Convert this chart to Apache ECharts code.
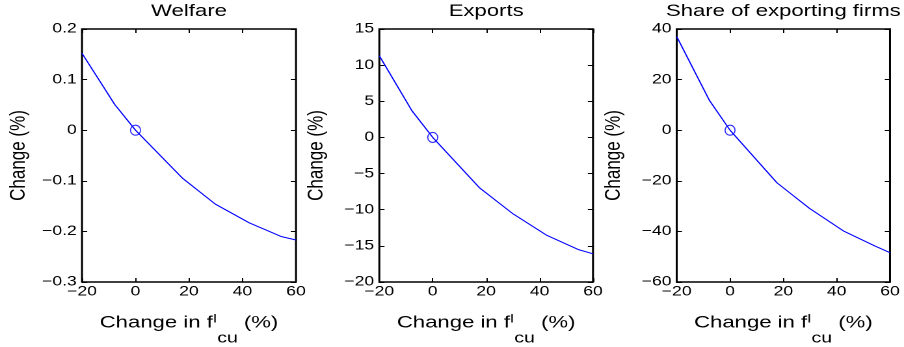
<!DOCTYPE html>
<html>
<head>
<meta charset="utf-8">
<script src="https://cdn.jsdelivr.net/npm/echarts@6/dist/echarts.min.js"></script>
<style>
  html, body { margin: 0; padding: 0; background: #fff; overflow: hidden; width: 904px; height: 347px; }
  /* the figure is laid out narrow and widened horizontally, like the wide-set lettering of the original plot */
  #chart { width: 695px; height: 347px; transform: scaleX(1.300719); transform-origin: 0 0; }
</style>
</head>
<body>
<div id="chart"></div>
<script>
// Change in the fixed cost f^I_cu (%) at which the model was solved
const xChange = [-20, -7.8, 0, 17.6, 29.8, 42.5, 54.4, 60];
// Responses (%) of each outcome
const welfare = [0.152, 0.051, 0, -0.095, -0.146, -0.183, -0.210, -0.217];
const exportsChg = [11.3, 3.7, 0, -7.0, -10.5, -13.5, -15.5, -16.1];
const shareExporting = [37.0, 11.9, 0, -20.8, -30.9, -39.8, -45.8, -48.4];
// Baseline calibration point
const baseline = [0, 0];

const panelTitles = ['Welfare', 'Exports', 'Share of exporting firms'];
const xRange = { min: -20, max: 60, interval: 20 };
const yRanges = [
  { min: -0.3, max: 0.2, interval: 0.1 },
  { min: -20, max: 15, interval: 5 },
  { min: -60, max: 40, interval: 20 }
];
const panelSeries = [welfare, exportsChg, shareExporting];

const S = 904 / 695;               // horizontal widening applied by CSS
const FONT = "'Liberation Sans', Arial, Helvetica, sans-serif";
// panel frames (screen px): left edge and width
const frames = [[82, 214], [379.3, 213.7], [676.7, 213.3]];
const TOP = 29, HEIGHT = 253;

const fmt = v => {
  const r = Math.round(v * 1000) / 1000;
  return String(r).replace('-', '\u2212');
};

const hiddenLine = { show: false, onZero: false };
const tickStyle = { inside: true, length: 4, lineStyle: { color: '#000', width: 1 } };
const labelStyle = (margin) => ({ color: '#000', fontFamily: FONT, fontSize: 13.5, margin, formatter: fmt });

const xName = '{a|Change in f}{sup|I}{sub|cu}{a| (%)}';
const xNameRich = {
  a: { fontFamily: FONT, fontSize: 17, color: '#000', lineHeight: 20 },
  sup: { fontFamily: FONT, fontSize: 12, color: '#000', lineHeight: 12, padding: [0, 0, 8, 0] },
  sub: { fontFamily: FONT, fontSize: 15, color: '#000', lineHeight: 15, padding: [31, 0, 0, 0] }
};

const grid = [], xAxis = [], yAxis = [], series = [], title = [];

frames.forEach(([l, w], i) => {
  const left = l / S, width = w / S;
  grid.push({ left, top: TOP, width, height: HEIGHT, show: true, outerBoundsMode: 'none',
    containLabel: false,
    borderColor: '#000', borderWidth: 1.5, backgroundColor: 'transparent' });

  title.push({ text: panelTitles[i], left: left + width / 2, top: 3, padding: 0,
    textAlign: 'center',
    textStyle: { fontFamily: FONT, fontSize: 17, fontWeight: 'normal', color: '#000' } });

  // bottom axis with labels and name, top axis with ticks only
  xAxis.push({ gridIndex: i, type: 'value', position: 'bottom', ...xRange,
    axisLine: hiddenLine, axisTick: tickStyle, splitLine: { show: false },
    axisLabel: labelStyle(3),
    name: xName, nameLocation: 'middle', nameGap: 31, nameMoveOverlap: false,
    nameTextStyle: { rich: xNameRich } });
  xAxis.push({ gridIndex: i, type: 'value', position: 'top', ...xRange,
    axisLine: hiddenLine, axisTick: tickStyle, splitLine: { show: false },
    axisLabel: { show: false } });

  yAxis.push({ gridIndex: i, type: 'value', position: 'left', ...yRanges[i],
    axisLine: hiddenLine, axisTick: tickStyle, splitLine: { show: false },
    axisLabel: labelStyle(4),
    name: 'Change (%)', nameLocation: 'middle', nameGap: 40, nameMoveOverlap: false,
    nameTextStyle: { fontFamily: FONT, fontSize: 17, color: '#000' } });
  yAxis.push({ gridIndex: i, type: 'value', position: 'right', ...yRanges[i],
    axisLine: hiddenLine, axisTick: tickStyle, splitLine: { show: false },
    axisLabel: { show: false } });

  series.push({ type: 'line', xAxisIndex: 2 * i, yAxisIndex: 2 * i,
    data: xChange.map((x, k) => [x, panelSeries[i][k]]),
    symbol: 'none', lineStyle: { color: '#0000ff', width: 1 }, silent: true });
  series.push({ type: 'scatter', xAxisIndex: 2 * i, yAxisIndex: 2 * i,
    data: [baseline], symbol: 'circle', symbolSize: [10 / S, 10],
    itemStyle: { color: 'rgba(0,0,0,0)', borderColor: '#0000ff', borderWidth: 1 }, silent: true });
});

const chart = echarts.init(document.getElementById('chart'), null, { renderer: 'canvas', devicePixelRatio: 2 });
chart.setOption({ animation: false, backgroundColor: '#fff', title, grid, xAxis, yAxis, series });
</script>
</body>
</html>
